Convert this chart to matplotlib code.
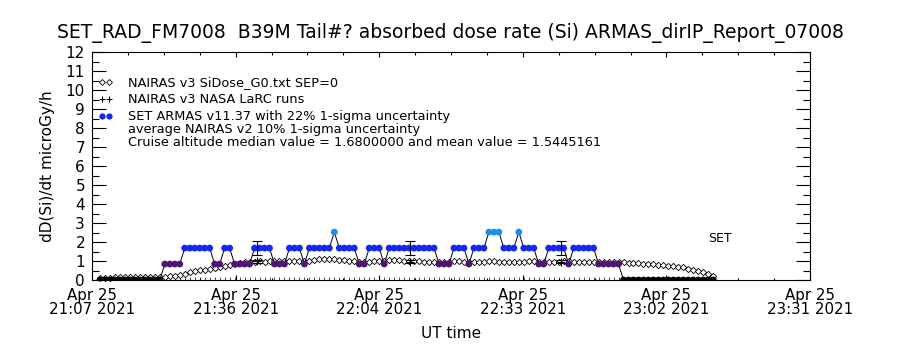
import matplotlib.pyplot as plt

# ---------------------------------------------
# data (minutes after 21:07:12 UT)
# ---------------------------------------------
t_first = 1.6        # first sample, minutes after axis start
cadence = 1.0        # minutes between samples

armas_dose = [
    0, 0, 0, 0, 0, 0, 0, 0, 0, 0, 0, 0, 0,
    0.84, 0.84, 0.84, 0.84,
    1.68, 1.68, 1.68, 1.68, 1.68, 1.68,
    0.84, 0.84,
    1.68, 1.68,
    0.84, 0.84, 0.84, 0.84,
    1.68, 1.68, 1.68, 1.68,
    0.84, 0.84, 0.84,
    1.68, 1.68, 1.68,
    0.84,
    1.68, 1.68, 1.68, 1.68, 1.68,
    2.52,
    1.68, 1.68, 1.68, 1.68,
    0.84, 0.84,
    1.68, 1.68, 1.68,
    0.84,
    1.68, 1.68, 1.68, 1.68, 1.68, 1.68, 1.68, 1.68, 1.68, 1.68,
    0.84, 0.84, 0.84,
    1.68, 1.68, 1.68,
    0.84,
    1.68, 1.68, 1.68,
    2.52, 2.52, 2.52,
    1.68, 1.68, 1.68,
    2.52,
    1.68, 1.68, 1.68,
    0.84, 0.84,
    1.68, 1.68, 1.68, 1.68,
    0.84,
    1.68, 1.68, 1.68, 1.68, 1.68,
    0.84, 0.84, 0.84, 0.84, 0.84,
    0, 0, 0, 0, 0, 0, 0, 0, 0, 0, 0, 0, 0, 0, 0, 0, 0, 0, 0,
]

nairas_dose = [
    0.12, 0.13, 0.13, 0.14, 0.14, 0.14, 0.15, 0.15, 0.15, 0.15, 0.16, 0.16, 0.16,
    0.17, 0.19, 0.20, 0.25, 0.32, 0.40, 0.47, 0.53, 0.55, 0.58, 0.63, 0.68, 0.72,
    0.80, 0.86, 0.90, 0.94, 0.96,
    0.97, 0.98, 0.97, 0.98, 0.99, 0.98, 0.99, 1.00, 0.99, 1.00, 1.01, 1.02, 1.04,
    1.08, 1.10, 1.10, 1.08, 1.05,
    1.03, 1.00, 0.98, 0.97, 0.96, 0.97, 0.98,
    1.00, 1.02, 1.04, 1.06, 1.05, 1.02, 1.00,
    0.99, 0.98, 0.97, 0.97, 0.96, 0.96, 0.97, 0.97, 0.98, 0.98,
    0.97, 0.97, 0.96, 0.96, 0.97, 0.98, 0.98, 0.97, 0.97, 0.96,
    0.96, 0.97, 0.97, 0.98, 0.98, 0.97, 0.96, 0.96, 0.97, 0.97,
    0.98, 0.98, 0.97, 0.97, 0.96, 0.96, 0.97, 0.97, 0.97, 0.96, 0.96,
    0.96, 0.94, 0.92, 0.90, 0.88, 0.86, 0.85, 0.83, 0.81, 0.79,
    0.76, 0.73, 0.70, 0.66, 0.60, 0.55, 0.50, 0.42, 0.30, 0.20,
]

# NAIRAS v3 NASA LaRC runs with error bars
larc_time = [33.1, 63.7, 94.0]
larc_armas = [1.68, 1.68, 1.68]
larc_nairas = [0.98, 0.97, 0.97]
armas_unc = 0.22
nairas_unc = 0.10

tick_labels = ["Apr 25\n21:07 2021", "Apr 25\n21:36 2021", "Apr 25\n22:04 2021",
               "Apr 25\n22:33 2021", "Apr 25\n23:02 2021", "Apr 25\n23:31 2021"]
tick_step = 28.8

title = "SET_RAD_FM7008  B39M Tail#? absorbed dose rate (Si) ARMAS_dirIP_Report_07008"
legend_lines = ["NAIRAS v3 SiDose_G0.txt SEP=0",
                "NAIRAS v3 NASA LaRC runs",
                "SET ARMAS v11.37 with 22% 1-sigma uncertainty"]
note1 = "average NAIRAS v2 10% 1-sigma uncertainty"
note2 = "Cruise altitude median value = 1.6800000 and mean value = 1.5445161"

level_colors = {0: "black", 0.84: "#4e1478", 1.68: "#1428f0", 2.52: "#1e8ce6"}

times = [t_first + cadence * i for i in range(len(armas_dose))]

# =========================
# figure
# =========================
fig = plt.figure(figsize=(9, 3.5), dpi=100)
ax = fig.add_axes([92 / 900, 70 / 350, 718 / 900, 228 / 350])

# NAIRAS model curve
ax.plot(times, nairas_dose, color="black", lw=0.6, marker="D", ms=3.2,
        mfc="white", mec="black", mew=0.6, zorder=2, clip_on=False)

# ARMAS measurements
ax.plot(times, armas_dose, color="black", lw=0.7, zorder=3)
ax.scatter(times, armas_dose, s=24, c=[level_colors[v] for v in armas_dose],
           zorder=4, linewidths=0)

# error bars
ax.errorbar(larc_time, larc_armas, yerr=[v * armas_unc for v in larc_armas],
            fmt="none", ecolor="black", elinewidth=0.8, capsize=3.5, capthick=0.8, zorder=5)
ax.errorbar(larc_time, larc_nairas, yerr=[v * nairas_unc for v in larc_nairas],
            fmt="+", color="black", ms=6, mew=0.8, elinewidth=0.8, capsize=3.5,
            capthick=0.8, zorder=5)

# rug of sample times on the bottom axis
ax.plot(times, [0] * len(times), "|", color="black", ms=5, mew=0.5, zorder=1)

ax.set_xlim(0, 5 * tick_step)
ax.set_ylim(0, 12)
ax.set_xticks([tick_step * k for k in range(6)])
ax.set_xticklabels(tick_labels, fontsize=10.8, linespacing=0.85)
ax.set_xticks([tick_step / 4 * k for k in range(21)], minor=True)
ax.set_yticks(range(13))
ax.set_yticks([k + 0.5 for k in range(12)], minor=True)
ax.tick_params(axis="both", which="both", direction="in", top=True, right=True,
               width=0.8, colors="black")
ax.tick_params(axis="x", which="major", length=3.4, pad=6)
ax.tick_params(axis="x", which="minor", length=1.8)
ax.tick_params(axis="y", which="major", length=10, labelsize=11, pad=5)
ax.tick_params(axis="y", which="minor", length=5)
for s in ax.spines.values():
    s.set_linewidth(0.8)

ax.set_xlabel("UT time", fontsize=11, labelpad=7)
ax.set_ylabel("dD(Si)/dt microGy/h", fontsize=11, labelpad=8)
fig.text(0.5, 1 - 33 / 350, title, ha="center", va="center", fontsize=13.5)

# legend drawn by hand, IDL style
leg_y = [0.868, 0.793, 0.719]
ax.plot([0.014, 0.024], [leg_y[0]] * 2, "D", ms=3, mfc="white", mec="black",
        mew=0.6, transform=ax.transAxes)
ax.plot([0.014, 0.024], [leg_y[1]] * 2, "+", ms=5, mew=0.8, color="black",
        transform=ax.transAxes)
ax.plot([0.014, 0.024], [leg_y[2]] * 2, "o", ms=4.5, color=level_colors[1.68],
        mec="none", transform=ax.transAxes)
for y, txt in zip(leg_y, legend_lines):
    ax.text(0.05, y, txt, transform=ax.transAxes, fontsize=9.3, va="center")
ax.text(0.05, 0.662, note1, transform=ax.transAxes, fontsize=9.3, va="center")
ax.text(0.05, 0.604, note2, transform=ax.transAxes, fontsize=9.3, va="center")
ax.text(0.858, 0.184, "SET", transform=ax.transAxes, fontsize=9, va="center")

fig.savefig("out.png", dpi=100)
